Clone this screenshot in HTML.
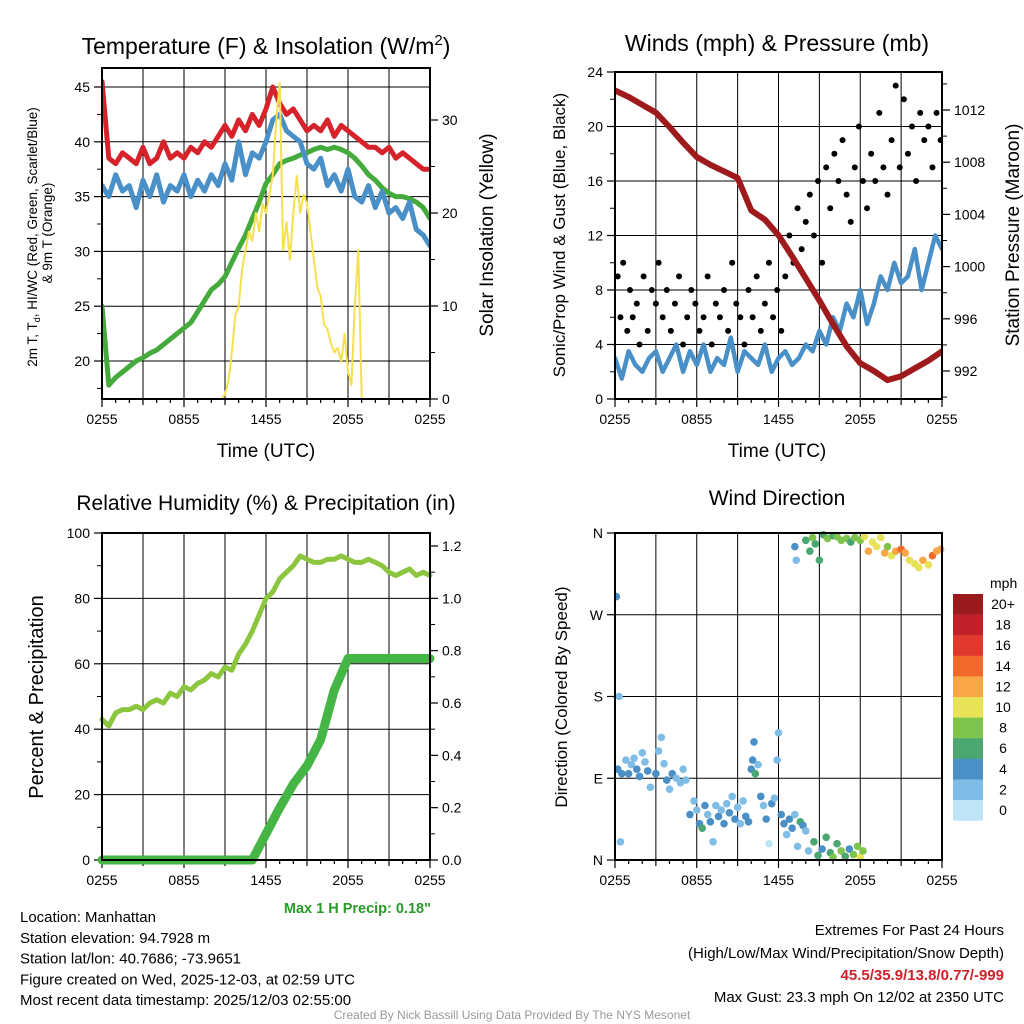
<!DOCTYPE html>
<html><head><meta charset="utf-8"><style>
body{margin:0;background:#fff}
svg{display:block;font-family:"Liberation Sans",sans-serif}
</style></head><body>
<svg id="c" width="1024" height="1024" viewBox="0 0 1024 1024" xmlns="http://www.w3.org/2000/svg"></svg>
<script>
// ---- data (hours since 0255 UTC) ----
const xTickLabels = ["0255","0855","1455","2055","0255"];
const tempRed = [45.5,38.5,38,39,38.5,38,39.5,38,38.5,40,38.5,39,38.5,39.5,39,40,39.5,40.5,41.5,40.5,42,41,42.5,41.5,43,45,43.5,42.5,43,42,41,41.5,41,42,40.5,41.5,41,40.5,40,39.5,39.5,39,39.5,38.5,39,38.5,38,37.5,37.5];
const windChillBlue = [36,35,37,35.5,36,34,36.5,35,37,34.5,36,35.5,37,35,36.5,35.5,37,36,38,36.5,40,37,39,38.5,40,42,42.5,41,40.5,40,38,37.5,38.5,36,37,35.5,37.5,35,34.5,36,34,35.5,33.5,34,33,34.5,32,31.5,30.5];
const dewGreen = [25,17.8,18.5,19,19.5,20,20.3,20.7,21,21.5,22,22.5,23,23.5,24.5,25.5,26.5,27,27.7,29,30.3,31.5,33,34.5,36.2,37,38,38.3,38.5,38.8,39,39.3,39.5,39.3,39.5,39.3,39,38.5,37.8,37,36.5,35.8,35.3,35,35,34.8,34.5,34,33];
const solarYellow = [0,0,0,0,0,0,0,0,0,0,0,0,0,0,0,0,0,0,0,0,0,0,0,0,0,0,0,0,0,0,0,0,0,0,0,0,
 0.5,2,5,9,10,14,16,18,17,20,18,21,20,22,24,30,34,16,19,15,20,24,20,22,21,18,15,12,11,8,7.5,6,5,5.5,4,7,3,1.5,10,16,0,
 0,0,0,0,0,0,0,0,0,0,0,0,0,0,0,0,0,0,0,0];
const windBlue = [3,1.5,3.5,2.5,2,3,3.5,2,3,4,2,3.5,2.5,4,2,3,2.5,4.5,2,3.5,3,2.5,4,2,3,3.5,2.5,3,4,3.5,5,4,6,5,7,6,8,5.5,7,9,8,10,8.5,9,11,8,10,12,11];
const gustHours = [0.2,0.4,0.6,0.9,1.1,1.3,1.6,1.8,2.1,2.4,2.7,3,3.2,3.5,3.8,4.1,4.4,4.7,5,5.3,5.6,5.9,6.2,6.5,6.8,7.1,7.4,7.7,8,8.3,8.6,8.9,9.2,9.5,9.8,10.1,10.4,10.7,11,11.3,11.6,11.9,12.2,12.5,12.8,13.1,13.4,13.7,14,14.3,14.6,14.9,15.2,15.5,15.8,16.1,16.4,16.7,17,17.3,17.6,17.9,18.2,18.5,18.8,19.1,19.4,19.7,20,20.3,20.6,20.9,21.2,21.5,21.8,22.1,22.4,22.7,23,23.3,23.6,23.9];
const gustValues = [9,6,10,5,8,6,7,4,9,5,8,7,10,6,8,5,7,9,4,6,8,7,5,6,9,4,7,6,8,5,10,7,6,4,8,6,9,5,7,10,6,8,5,9,12,10,14,11,13,15,12,16,10,17,14,18,16,19,15,13,17,20,16,14,18,16,21,17,15,19,23,17,22,18,20,16,21,19,20,17,21,19];
const pressure = [1013.5,1013,1012.4,1011.8,1010.7,1009.5,1008.4,1007.8,1007.3,1006.8,1004.3,1003.6,1002.4,1000.8,999.1,997.4,995.6,993.9,992.6,992,991.3,991.6,992.2,992.8,993.5];
const rhValues = [43,41,45,46,46,47,46,48,49,48,51,50,53,52,54,55,57,56,59,58,63,66,70,75,80,82,86,88,90,93,92,91,91,92,92,93,92,91,91,92,91,90,88,87,88,89,87,88,87];
const precipValues = [0,0,0,0,0,0,0,0,0,0,0,0,0.1,0.2,0.29,0.36,0.46,0.65,0.77,0.77,0.77,0.77,0.77,0.77,0.77];
const dirHours = [0.1,0.3,0.4,0.2,0.5,0.8,1,1.2,1.4,1.6,1.8,2,2.2,2.4,2.6,3,3.2,3.4,3.6,3.8,4,4.2,4.5,4.8,5,5.2,
 5.5,5.8,6,6.2,6.4,6.6,6.8,7,7.2,7.4,7.6,7.8,8,8.2,8.4,8.6,8.8,9,9.2,9.4,9.6,9.8,10,10.1,10.2,10.3,10.5,10.7,10.9,11.1,11.3,11.5,11.7,11.9,12,12.2,12.4,12.6,12.8,13,13.2,13.4,13.6,13.8,14,14.2,
 14.6,14.9,15.2,15.5,15.8,16,16.3,16.6,16.9,17.2,17.5,17.8,18,18.2,
 13.2,13.3,14,14.3,14.5,14.7,15,15.3,15.6,16,16.3,16.6,17,17.3,17.6,18,18.3,18.6,18.9,19.2,19.5,19.8,20,20.3,20.6,21,21.3,21.6,22,22.3,22.6,23,23.3,23.6,23.9];
const dirDegrees = [290,180,20,100,95,110,95,105,112,100,92,118,108,98,80,95,120,135,106,88,78,95,90,85,100,88,
 50,65,55,40,35,60,50,42,20,60,48,55,40,62,52,70,45,58,40,65,48,42,100,110,130,95,105,70,60,45,18,62,68,110,140,50,40,28,45,35,50,15,42,38,32,10,
 20,5,12,25,8,3,18,10,4,12,6,15,3,10,
 345,330,352,340,355,348,330,358,354,357,356,352,354,350,355,352,356,340,350,345,355,338,345,335,340,342,338,330,326,322,330,325,335,340,342];
const dirSpeeds = [4,1,2,4,4,2,3,2,2,4,3,2,2,4,2,4,2,2,2,4,2,4,2,2,2,2,
 4,2,2,4,6,4,2,4,2,2,4,2,4,2,4,2,4,2,2,2,4,4,4,4,4,6,2,4,2,4,0,4,2,2,2,4,4,2,4,4,2,2,6,4,2,2,
 6,6,4,6,6,7,6,7,6,4,8,7,10,8,
 4,2,6,6,7,6,6,6,7,6,7,8,7,6,7,8,10,12,10,10,9,12,8,10,12,14,12,10,10,10,12,10,14,12,12];
const speedLabels = ["20+","18","16","14","12","10","8","6","4","2","0"];
const speedColors = ["#9b1a1e","#c1202a","#e0382c","#f26a2b","#f8a646","#e8e259","#7dc34c","#4aa771","#4a8fc6","#80bde6","#bfe4f6"];

const NS="http://www.w3.org/2000/svg";
const svg=document.getElementById('c');
function E(tag,attrs,parent,text){const e=document.createElementNS(NS,tag);for(const k in attrs)e.setAttribute(k,attrs[k]);if(text!==undefined)e.textContent=text;(parent||svg).appendChild(e);return e;}
function lin(d0,d1,r0,r1){return v=>r0+(v-d0)*(r1-r0)/(d1-d0);}
function idxHour(arr,i){return i*24/(arr.length-1);}
function pathFrom(xs,ys){return xs.map((x,i)=>(i?'L':'M')+x.toFixed(1)+' '+ys[i].toFixed(1)).join('');}

function panel(name){
  const g=E('g',{},svg);
  
  
  return g;
}
function frame(g,x0,x1,y0,y1){const r=E('rect',{x:x0,y:y0,width:x1-x0,height:y1-y0,fill:'none',stroke:'#000','stroke-width':2},g);}
function xAxis(g,X,y0,y1,labY){
  for(let h=0;h<=24;h+=3){E('line',{x1:X(h),x2:X(h),y1:y0,y2:y1,stroke:'#000','stroke-width':1},g);}
  for(let h=0;h<=24;h+=1){const L=h%6==0?8:(h%3==0?6:4);E('line',{x1:X(h),x2:X(h),y1:y1,y2:y1+L,stroke:'#000','stroke-width':1.2},g);}
  xTickLabels.forEach((t,i)=>{const tx=E('text',{x:X(i*6),y:labY,'font-size':14,'text-anchor':'middle'},g,t);});
}
function leftTicks(g,Y,x0,x1,vals,minor,grid,labels){
  vals.forEach((v,i)=>{if(grid)E('line',{x1:x0,x2:x1,y1:Y(v),y2:Y(v),stroke:'#000','stroke-width':1},g);
    E('line',{x1:x0-8,x2:x0,y1:Y(v),y2:Y(v),stroke:'#000','stroke-width':1.2},g);
    const t=E('text',{x:x0-12,y:Y(v)+5,'font-size':14,'text-anchor':'end'},g,labels?labels[i]:String(v));});
  (minor||[]).forEach(v=>E('line',{x1:x0-5,x2:x0,y1:Y(v),y2:Y(v),stroke:'#000','stroke-width':1},g));
}
function rightTicks(g,Y,x1,vals,minor,labels){
  vals.forEach((v,i)=>{E('line',{x1:x1,x2:x1+8,y1:Y(v),y2:Y(v),stroke:'#000','stroke-width':1.2},g);
    const t=E('text',{x:x1+12,y:Y(v)+5,'font-size':14,'text-anchor':'start'},g,labels?labels[i]:String(v));});
  (minor||[]).forEach(v=>E('line',{x1:x1,x2:x1+5,y1:Y(v),y2:Y(v),stroke:'#000','stroke-width':1},g));
}
function rotText(g,x,y,size,txt,name){const t=E('text',{x:x,y:y,'font-size':size,'text-anchor':'middle',transform:`rotate(-90 ${x} ${y})`},g,txt);return t;}
function txt(g,x,y,size,s,anchor,name,extra){const a={x:x,y:y,'font-size':size,'text-anchor':anchor||'start'};Object.assign(a,extra||{});const t=E('text',a,g,s);return t;}
function seriesLine(g,arr,X,Y,color,w,name){const p=E('path',{d:pathFrom(arr.map((v,i)=>X(idxHour(arr,i))),arr.map(v=>Y(v))),fill:'none',stroke:color,'stroke-width':w,'stroke-linejoin':'round','stroke-linecap':'round'},g);}
function clip(id,x0,y0,w,h){const c=document.createElementNS(NS,'clipPath');c.id=id;svg.appendChild(c);E('rect',{x:x0,y:y0,width:w,height:h},c);}

// ---- Panel 1 ----
(function(){
 const x0=102,x1=430,y0=68,y1=399;
 const g=panel('temperature-panel');
 const X=lin(0,24,x0,x1), Y=lin(20,45,361,87), Yr=lin(0,30,399,120);
 txt(g,266,54,23,'','middle','panel-title').innerHTML='Temperature (F) &amp; Insolation (W/m<tspan dy="-9" font-size="15">2</tspan><tspan dy="9">)</tspan>';
 leftTicks(g,Y,x0,x1,[20,25,30,35,40,45],[17.5,22.5,27.5,32.5,37.5,42.5],true);
 rightTicks(g,Yr,x1,[0,10,20,30],[5,15,25]);
 xAxis(g,X,y0,y1,424);
 clip('cp1',x0,y0,x1-x0,y1-y0);
 const d=E('g',{'clip-path':'url(#cp1)'},g);
 seriesLine(d,dewGreen,X,Y,'#44aa3c',5,'dewpoint-line');
 seriesLine(d,tempRed,X,Y,'#d6222a',5,'temperature-line');
 seriesLine(d,windChillBlue,X,Y,'#4a90c8',5,'windchill-line');
 seriesLine(d,solarYellow,X,Yr,'#f7e04e',2,'solar-line');
 frame(g,x0,x1,y0,y1);
 const t=rotText(g,44,233,13.5,'','y-axis-title-left');
 t.innerHTML='<tspan x="40" dy="0">2m T, T</tspan><tspan font-size="9" dy="3">d</tspan><tspan dy="-3">, HI/WC (Red, Green, Scarlet/Blue)</tspan><tspan x="44" dy="15">&amp; 9m T (Orange)</tspan>';
 t.setAttribute('y','226');t.setAttribute('transform','rotate(-90 44 233)');
 rotText(g,493,235,19,'Solar Insolation (Yellow)','y-axis-title-right');
 txt(g,266,457,19,'Time (UTC)','middle','x-axis-title');
})();

// ---- Panel 2 ----
(function(){
 const x0=615,x1=942,y0=72,y1=399;
 const g=panel('winds-panel');
 const X=lin(0,24,x0,x1), Y=lin(0,24,399,72), Yr=lin(992,1012,371,110);
 txt(g,777,51,23,'Winds (mph) & Pressure (mb)','middle','panel-title');
 leftTicks(g,Y,x0,x1,[0,4,8,12,16,20,24],[2,6,10,14,18,22],true);
 rightTicks(g,Yr,x1,[992,996,1000,1004,1008,1012],[990,994,998,1002,1006,1010,1014]);
 xAxis(g,X,y0,y1,424);
 clip('cp2',x0,y0,x1-x0,y1-y0);
 const d=E('g',{'clip-path':'url(#cp2)'},g);
 seriesLine(d,windBlue,X,Y,'#4a90c8',4.5,'wind-speed-line');
 gustHours.forEach((h,i)=>{const p=E('circle',{cx:X(h),cy:Y(gustValues[i]),r:3,fill:'#000'},d);});
 seriesLine(d,pressure,X,Yr,'#9e1a1c',6,'pressure-line');
 frame(g,x0,x1,y0,y1);
 rotText(g,565,235,17,'Sonic/Prop Wind & Gust (Blue, Black)','y-axis-title-left');
 rotText(g,1019,235,19,'Station Pressure (Maroon)','y-axis-title-right');
 txt(g,777,457,19,'Time (UTC)','middle','x-axis-title');
})();

// ---- Panel 3 ----
(function(){
 const x0=102,x1=430,y0=533,y1=860;
 const g=panel('humidity-panel');
 const X=lin(0,24,x0,x1), Y=lin(0,100,860,533), Yr=lin(0,1.2,860,546);
 txt(g,266,510,21,'Relative Humidity (%) & Precipitation (in)','middle','panel-title');
 leftTicks(g,Y,x0,x1,[0,20,40,60,80,100],[10,30,50,70,90],true);
 rightTicks(g,Yr,x1,[0,0.2,0.4,0.6,0.8,1.0,1.2],[0.1,0.3,0.5,0.7,0.9,1.1],["0.0","0.2","0.4","0.6","0.8","1.0","1.2"]);
 xAxis(g,X,y0,y1,885);
 clip('cp3',x0-6,y0,x1-x0+12,y1-y0+6);
 const d=E('g',{'clip-path':'url(#cp3)'},g);
 seriesLine(d,rhValues,X,Y,'#8cc63e',5,'humidity-line');
 seriesLine(d,precipValues,X,Yr,'#45b545',9,'precip-line');
 frame(g,x0,x1,y0,y1);
 rotText(g,43,697,20,'Percent & Precipitation','y-axis-title-left');
 txt(g,431,913,14.5,'Max 1 H Precip: 0.18"','end','max-precip-label',{fill:'#2b9a2b','font-weight':'bold'});
})();

// ---- Panel 4 ----
(function(){
 const x0=615,x1=942,y0=533,y1=860;
 const g=panel('wind-direction-panel');
 const X=lin(0,24,x0,x1), Y=lin(0,360,860,533);
 txt(g,777,505,21,'Wind Direction','middle','panel-title');
 leftTicks(g,Y,x0,x1,[0,90,180,270,360],[],true,["N","E","S","W","N"]);
 xAxis(g,X,y0,y1,885);
 clip('cp4',x0,y0-5,x1-x0+6,y1-y0+5);
 const d=E('g',{'clip-path':'url(#cp4)'},g);
 dirHours.forEach((h,i)=>{const s=dirSpeeds[i];const k=Math.max(0,Math.min(10,10-Math.round(s/2)));
  const p=E('circle',{cx:X(h),cy:Y(dirDegrees[i]),r:3.8,fill:speedColors[k]},d);});
 frame(g,x0,x1,y0,y1);
 rotText(g,567,697,17,'Direction (Colored By Speed)','y-axis-title-left');
 const lg=E('g',{},svg);
 txt(lg,990,588,14,'mph','start','colorbar-title');
 speedLabels.forEach((l,i)=>{const r=E('rect',{x:953,y:594+i*20.6,width:30,height:20.8,fill:speedColors[i]},lg);
  txt(lg,1003,609+i*20.6,14,l,'middle','colorbar-label');});
})();

// ---- Footer ----
(function(){
 const g=panel('footer');
 ["Location: Manhattan","Station elevation: 94.7928 m","Station lat/lon: 40.7686; -73.9651","Figure created on Wed, 2025-12-03, at 02:59 UTC","Most recent data timestamp: 2025/12/03 02:55:00"].forEach((s,i)=>txt(g,20,922+i*20.8,15,s,'start','station-info-line'));
 txt(g,1004,935,15,'Extremes For Past 24 Hours','end','extremes-title');
 txt(g,1004,958,15,'(High/Low/Max Wind/Precipitation/Snow Depth)','end','extremes-subtitle');
 txt(g,1004,980,15,'45.5/35.9/13.8/0.77/-999','end','extremes-values',{fill:'#d0202a','font-weight':'bold'});
 txt(g,1004,1002,15,'Max Gust: 23.3 mph On 12/02 at 2350 UTC','end','max-gust');
 txt(g,512,1019,12,'Created By Nick Bassill Using Data Provided By The NYS Mesonet','middle','credit',{fill:'#999'});
})();
</script>
</body></html>
